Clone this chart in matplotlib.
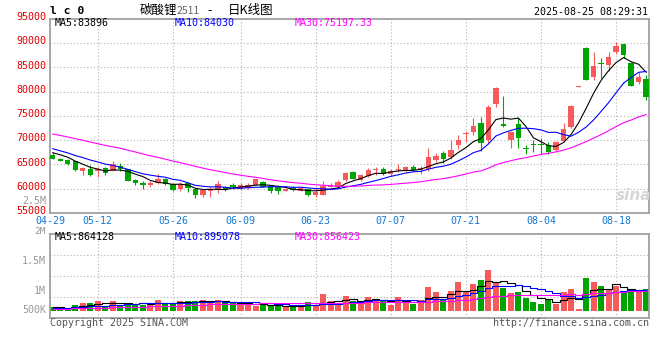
import numpy as np
import matplotlib
matplotlib.use("Agg")
import matplotlib.pyplot as plt
import matplotlib.transforms as mtransforms

# 碳酸锂2511 日K, 04-29 ~ 08-22
opens = [67000, 66180, 65900, 65630, 63710, 64120, 63710, 64260, 63710, 64670,
         63990, 61790, 61240, 60830, 61100, 61930, 60970, 59870, 61100, 59870,
         58640, 59600, 60010, 60280, 60830, 60010, 60140, 60830, 61380, 60560,
         60280, 59600, 60140, 59600, 59870, 58770, 58770, 60420, 60280, 61790,
         63440, 61790, 62620, 63780, 64120, 63030, 63780, 63570, 64400, 63850,
         63990, 65910, 67420, 66460, 68930, 71300, 71670, 73590, 70020, 77440,
         73380, 70090, 73250, 68450, 69130, 69270, 68990, 68030, 69820, 72700,
         80970, 89030, 82990, 85730, 85460, 88200, 89850, 85870, 82030, 82580]
highs = [67280, 66310, 66180, 65770, 64540, 64810, 64400, 64400, 65630, 65220,
         64120, 62070, 61510, 61510, 63030, 62210, 61240, 61380, 61380, 60000,
         59870, 60420, 61650, 60560, 61240, 61100, 61100, 62070, 61510, 60830,
         60690, 60140, 60560, 60420, 60010, 60280, 61650, 61240, 61790, 63440,
         63710, 63030, 64260, 64400, 64530, 64120, 65080, 64670, 64810, 64670,
         68380, 67280, 67690, 70020, 71120, 71940, 74550, 74820, 77160, 81000,
         79000, 71880, 74480, 68990, 70090, 70500, 69540, 69820, 73520, 77230,
         81070, 89100, 88200, 86830, 88200, 90260, 89850, 86140, 84090, 83400]
lows = [66040, 65630, 64950, 63710, 62890, 62620, 62480, 62750, 63570, 63710,
        61510, 60830, 60000, 60420, 60970, 60830, 59590, 59590, 59320, 58090,
        58360, 58360, 59190, 59600, 60010, 59730, 59870, 60690, 60280, 59050,
        58910, 59460, 59460, 59460, 58500, 58360, 58640, 60280, 60140, 61650,
        61930, 61650, 62480, 62890, 62890, 62620, 63440, 63440, 63710, 63030,
        63710, 65490, 65360, 66180, 68100, 69610, 70980, 67830, 69470, 76880,
        72700, 68450, 68450, 67070, 67480, 67070, 67070, 67760, 69680, 72560,
        80970, 82300, 82440, 82710, 84220, 87650, 86970, 81070, 81620, 78190]
closes = [66180, 65770, 65150, 63850, 64330, 62890, 63990, 63160, 65080, 63990,
          61650, 61100, 60690, 61100, 61930, 60970, 59730, 60970, 60140, 58640,
          59730, 59870, 60970, 59870, 60280, 60690, 60830, 61930, 60420, 59600,
          59600, 59870, 59730, 60140, 58770, 59320, 60560, 60830, 61380, 63230,
          62070, 62890, 63850, 63850, 63030, 63710, 63850, 64400, 63850, 64260,
          66460, 66730, 66180, 67960, 70020, 71400, 72900, 69340, 76880, 80660,
          72970, 71740, 70500, 68180, 68990, 68990, 67620, 69680, 72280, 77090,
          81070, 82440, 85320, 85590, 87100, 89440, 87520, 81070, 82990, 78870]
vols = [142000, 142000, 114000, 256000, 341000, 341000, 398000, 199000, 426000, 256000,
        341000, 284000, 227000, 341000, 454000, 341000, 284000, 426000, 426000, 426000,
        454000, 341000, 454000, 312000, 341000, 284000, 312000, 199000, 256000, 199000,
        227000, 199000, 199000, 227000, 369000, 227000, 710000, 398000, 284000, 625000,
        426000, 398000, 568000, 454000, 398000, 256000, 568000, 398000, 284000, 454000,
        994000, 795000, 454000, 824000, 1221000, 824000, 1136000, 1306000, 1732000, 1193000,
        966000, 767000, 795000, 540000, 369000, 284000, 454000, 284000, 795000, 909000,
        85000, 1392000, 1221000, 1051000, 880000, 1051000, 738000, 795000, 795000, 937000]

# 图左边以前的收盘价/成交量(估计), 只用来让均线从左边开始
prev_closes = [74500, 74800, 74200, 73900, 74600, 74100, 73500, 73800, 73200, 72900,
               72500, 72800, 72300, 71900, 72100, 71600, 71200, 70800, 70500, 70400,
               70000, 69500, 69200, 68600, 67950, 67900, 67600, 67900, 67470]
prev_vols = [65000, 72000, 68000, 75000, 70000, 66000, 73000, 69000, 71000, 74000,
             67000, 70000, 72000, 68000, 75000, 71000, 69000, 73000, 70000, 72000,
             105000, 112000, 108000, 115000, 110000, 138000, 142000, 136000, 144000]

date_labels = ["04-29", "05-12", "05-26", "06-09", "06-23", "07-07", "07-21", "08-04", "08-18"]
date_index = [0, 6, 16, 25, 35, 45, 55, 65, 75]
price_ticks = [95000, 90000, 85000, 80000, 75000, 70000, 65000, 60000, 55000]


def ma(prev, cur, n):
    a = np.array(prev + cur, dtype=float)
    out = np.convolve(a, np.ones(n) / n, mode="valid")
    return out[-len(cur):]


RED = "#f65a5a"
GREEN = "#00a400"
GRID = "#b4b4b4"
BORDER = "#a0a0a0"
MONO = "DejaVu Sans Mono"
CJK = ["Noto Sans CJK SC", "DejaVu Sans"]

W, H = 660, 360
fig = plt.figure(figsize=(W / 100, H / 100), dpi=100)
fig.patch.set_facecolor("white")


def fx(x):
    return x / W


def fy(y):
    return 1 - y / H


ax = fig.add_axes([fx(50), fy(213), fx(649.3) - fx(50), fy(19) - fy(213)])
axv = fig.add_axes([fx(50), fy(318), fx(649.3) - fx(50), fy(234) - fy(318)])

o = np.array(opens, float)
c = np.array(closes, float)
hi = np.array(highs, float)
lo = np.array(lows, float)
v = np.array(vols, float)
x = np.arange(len(o))
cols = np.where(c >= o, RED, GREEN)

for a in (ax, axv):
    a.set_xlim(-0.36, 79.42)
    a.set_xticks([])
    a.set_yticks([])
    for s in a.spines.values():
        s.set_color(BORDER)
        s.set_linewidth(1.3)
    for i in date_index[1:]:
        a.axvline(i, color=GRID, lw=0.8, ls=(0, (1, 2)), zorder=0)

ax.set_ylim(55000, 94940)
for p in price_ticks[1:-1]:
    ax.axhline(p, color=GRID, lw=0.8, ls=(0, (1, 2)), zorder=0)

# K线
ax.vlines(x, lo, hi, colors=cols, lw=0.8, zorder=2)
body_h = np.maximum(np.abs(c - o), 230)
ax.bar(x, body_h, 0.72, bottom=np.minimum(o, c), color=cols, linewidth=0, zorder=3)

ax.plot(x, ma(prev_closes, closes, 5), color="black", lw=0.8, zorder=4)
ax.plot(x, ma(prev_closes, closes, 10), color="#0000ff", lw=0.8, zorder=4)
ax.plot(x, ma(prev_closes, closes, 30), color="#ff00ff", lw=0.8, zorder=4)

# 成交量
axv.set_ylim(-311000, 3267000)
for f in (0.25, 0.5, 0.75):
    axv.axhline(-311000 + f * 3578000, color=GRID, lw=0.8, ls=(0, (1, 2)), zorder=0)
axv.bar(x, v, 0.8, color=cols, linewidth=0, zorder=2)
axv.plot(x, ma(prev_vols, vols, 5), color="black", lw=0.8, drawstyle="steps-mid", zorder=3)
axv.plot(x, ma(prev_vols, vols, 10), color="#0000ff", lw=0.8, drawstyle="steps-mid", zorder=3)
axv.plot(x, ma(prev_vols, vols, 30), color="#ff00ff", lw=0.8, drawstyle="steps-mid", zorder=3)

# 价格刻度
ytr = mtransforms.offset_copy(ax.get_yaxis_transform(), fig=fig, x=0, y=1.7, units="dots")
for p in price_ticks:
    ax.text(-0.0067, p, str(p), transform=ytr, ha="right", va="center",
            color="#e00000", fontsize=7.2, family=MONO)
fig.text(fx(46), fy(200.7), "2.5M", ha="right", va="center", color="#999999",
         fontsize=7.2, family=MONO)

# 成交量刻度
for lab, yy, fs in [("2M", 231.5, 6.8), ("1.5M", 261, 7.2), ("1M", 291, 7.2), ("500K", 310.3, 7.2)]:
    fig.text(fx(46), fy(yy), lab, ha="right", va="center", color="#999999",
             fontsize=fs, family=MONO)

# 日期
xtr = ax.get_xaxis_transform()
for lab, i in zip(date_labels, date_index):
    xi = -0.36 if i == 0 else i
    ax.text(xi, -0.041, lab, transform=xtr, ha="center", va="center",
            color="#1479d1", fontsize=7.2, family=MONO)

# 头部文字
fig.text(fx(50), fy(10.5), "l c 0", ha="left", va="center", fontsize=8.2,
         family=MONO, weight="bold", color="black")
fig.text(fx(140), fy(10.5), "碳酸锂", ha="left", va="center", fontsize=9, family=CJK)
fig.text(fx(177), fy(11), "2511", ha="left", va="center", fontsize=7.5, family=CJK,
         color="#666666")
fig.text(fx(207), fy(10.5), "-", ha="left", va="center", fontsize=9, family=CJK)
fig.text(fx(228), fy(10.5), "日K线图", ha="left", va="center", fontsize=9, family=CJK)
fig.text(fx(648), fy(12), "2025-08-25 08:29:31", ha="right", va="center",
         fontsize=7.2, family=MONO, color="black")

fig.text(fx(55), fy(23.3), "MA5:83896", ha="left", va="center", fontsize=7.2,
         family=MONO, color="black")
fig.text(fx(175), fy(23.3), "MA10:84030", ha="left", va="center", fontsize=7.2,
         family=MONO, color="#0000ff")
fig.text(fx(295), fy(23.3), "MA30:75197.33", ha="left", va="center", fontsize=7.2,
         family=MONO, color="#ff00ff")

fig.text(fx(55), fy(237.5), "MA5:864128", ha="left", va="center", fontsize=7.2,
         family=MONO, color="black")
fig.text(fx(175), fy(237.5), "MA10:895078", ha="left", va="center", fontsize=7.2,
         family=MONO, color="#0000ff")
fig.text(fx(295), fy(237.5), "MA30:856423", ha="left", va="center", fontsize=7.2,
         family=MONO, color="#ff00ff")

fig.text(fx(50), fy(323.5), "Copyright 2025 SINA.COM", ha="left", va="center",
         fontsize=7.2, family=MONO, color="#555555")
fig.text(fx(649), fy(323.5), "http://finance.sina.com.cn", ha="right", va="center",
         fontsize=7.2, family=MONO, color="#555555")

# 水印
fig.text(fx(634), fy(196), "sina", ha="center", va="center", fontsize=11,
         style="italic", weight="bold", color="#d6d6d6", family="DejaVu Sans")

fig.savefig("out.png", dpi=100, facecolor="white")
